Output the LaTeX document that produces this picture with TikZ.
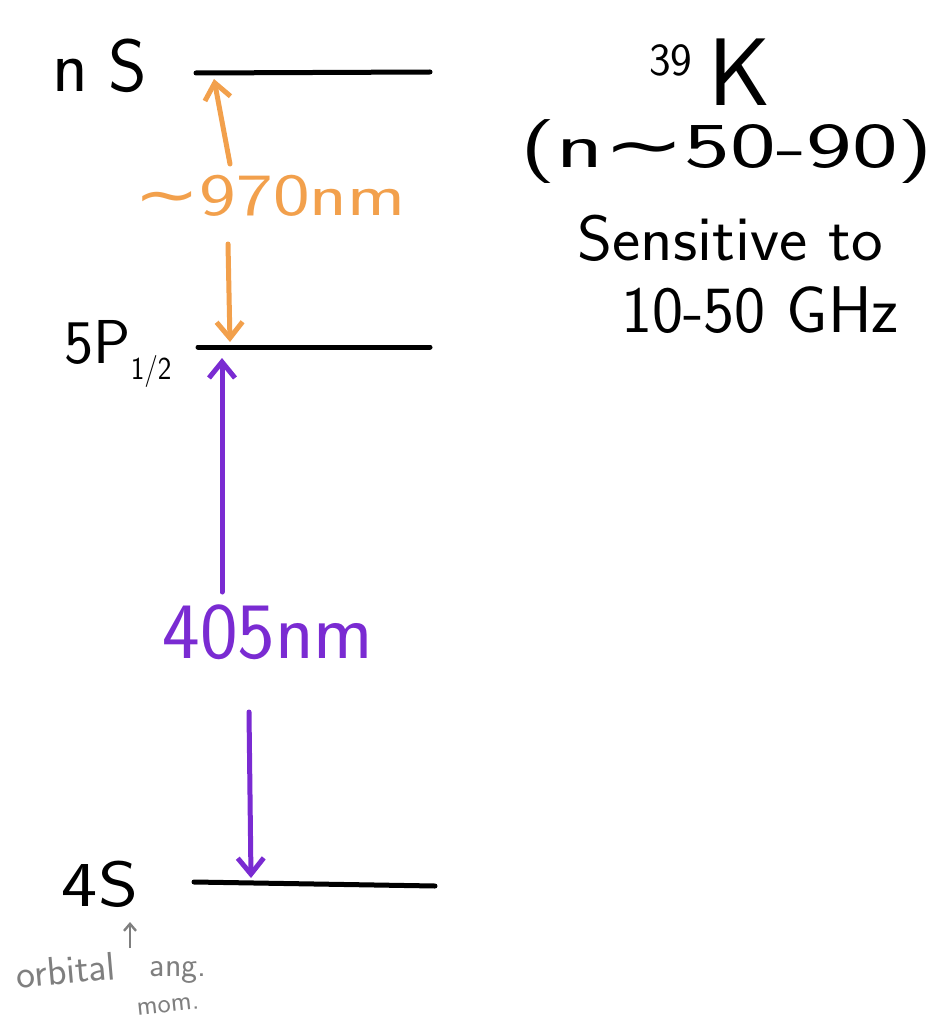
\documentclass[tikz,border=0pt]{standalone}
\usepackage{fontspec}
\newfontfamily\djfont{DejaVu Sans}
\usetikzlibrary{arrows.meta}
\definecolor{korange}{HTML}{F2A04C}
\definecolor{kpurple}{HTML}{7A2BD2}
\definecolor{kgray}{HTML}{7F7F7F}
\newcommand{\wid}[2]{\scalebox{#1}[1]{#2}}
\newcommand{\tld}{{\djfont ∼}}
\begin{document}
\begin{tikzpicture}[x=1pt,y=-1pt,
  level/.style={line width=5pt,line cap=round},
  big/.style={inner sep=0pt,font=\sffamily\fontsize{#1}{#1}\selectfont},
  tr/.style={line width=5pt,line cap=round,-{Straight Barb[length=16pt,width=26pt]}},
  note/.style={inner sep=0pt,text=kgray,font=\sffamily\fontsize{#1}{#1}\selectfont}]
\useasboundingbox (0,0) rectangle (944,1019);
% levels
\coordinate (nSa) at (196,73); \coordinate (nSb) at (430,72);
\coordinate (Pa) at (198,347); \coordinate (Pb) at (430,347);
\coordinate (Sa) at (194,882); \coordinate (Sb) at (435,886);
\draw[level] (nSa) -- (nSb);
\draw[level] (Pa) -- (Pb);
\draw[level] (Sa) -- (Sb);
% level labels
\node[big=74] (nS) at (100,66) {n\hspace{20pt}S};
\node[big=62] (P) at (118,354) {5P\raisebox{-16pt}{\fontsize{32}{32}\selectfont\wid{0.9}{1/2}}};
\node[big=64] (S4) at (100,884) {\wid{1.2}{4S}};
% transitions
\coordinate (o1) at (230,164); \coordinate (o1t) at (214,79);
\coordinate (o2) at (228,244); \coordinate (o2t) at (230,342);
\coordinate (p1) at (222,592); \coordinate (p1t) at (222,358);
\coordinate (p2) at (249,712); \coordinate (p2t) at (251,878);
\draw[tr,korange] (o1) -- (o1t);
\draw[tr,korange] (o2) -- (o2t);
\draw[tr,kpurple] (p1) -- (p1t);
\draw[tr,kpurple] (p2) -- (p2t);
\node[big=60,text=korange] (l970) at (270,196) {\wid{1.3}{\tld970nm}};
\node[big=80,text=kpurple] (l405) at (268,632) {405nm};
% right block
\node[big=96] (K) at (710,72) {\raisebox{30pt}{\fontsize{46}{46}\selectfont 39}\,K};
\node[big=64] (nr) at (727,152) {\wid{1.52}{(n\tld50-90)}};
\node[big=64] (sens) at (730,238) {\wid{1.05}{Sensitive to}};
\node[big=66] (ghz) at (760,310) {10-50 GHz};
% annotation
\node[note=40,rotate=5] (orb) at (66,970) {orbital};
\node[note=34] (ang) at (178,972) {ang.};
\node[note=28,rotate=6] (mom) at (168,1006) {mom.};
\coordinate (ar) at (130,948); \coordinate (art) at (130,922);
\draw[kgray,line width=2.4pt,-{Straight Barb[length=7pt,width=12pt]}] (ar) -- (art);
\end{tikzpicture}
\end{document}
